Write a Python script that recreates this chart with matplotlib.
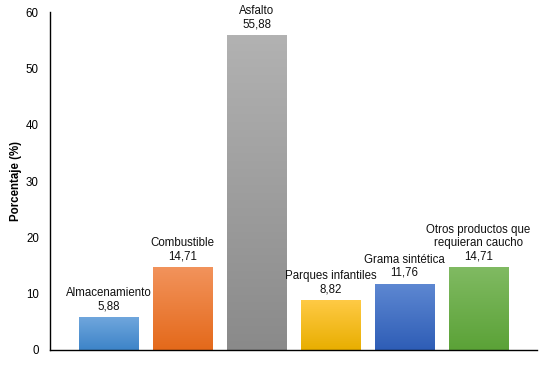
import matplotlib.pyplot as plt
import numpy as np
from matplotlib.colors import LinearSegmentedColormap

plt.rcParams['font.family'] = ['Liberation Sans', 'DejaVu Sans']

categorias = ['Almacenamiento', 'Combustible', 'Asfalto', 'Parques infantiles',
              'Grama sintética', 'Otros productos que\nrequieran caucho']
valores = [5.88, 14.71, 55.88, 8.82, 11.76, 14.71]
# (top colour, bottom colour) gradient per bar
colores = [('#71a7dd', '#3d84c8'), ('#f2935c', '#e4691a'), ('#b2b2b2', '#8a8a8a'),
           ('#ffca45', '#e8ae00'), ('#5e88d2', '#2e5db6'), ('#80ba62', '#5ba237')]

fig = plt.figure(figsize=(5.51, 3.68), dpi=100, facecolor='white')
ax = fig.add_axes([0.0907, 0.049, 0.884, 0.918])

x = np.arange(len(categorias))
bars = ax.bar(x, valores, width=0.8, color='none', edgecolor='none', zorder=2)

grad = np.linspace(0, 1, 256).reshape(-1, 1)
for b, (top, bottom) in zip(bars, colores):
    cmap = LinearSegmentedColormap.from_list('g', [bottom, top])
    x0, y0 = b.get_x(), b.get_y()
    im = ax.imshow(grad, cmap=cmap, origin='lower', aspect='auto',
                   extent=[x0, x0 + b.get_width(), y0, y0 + b.get_height()], zorder=2)
    im.set_clip_path(b)

for xi, v, cat in zip(x, valores, categorias):
    ax.annotate(f"{cat}\n{v:.2f}".replace('.', ','), (xi, v), xytext=(0, 3.5),
                textcoords='offset points', ha='center', va='bottom',
                fontsize=8.3, linespacing=1.12, color='#111111')

ax.set_xlim(-0.79, 5.79)
ax.set_ylim(0, 60)
ax.set_yticks(range(0, 61, 10))
ax.set_xticks([])
ax.tick_params(axis='y', length=0, labelsize=8.3, pad=8)
ax.set_ylabel('Porcentaje (%)', fontsize=8.3, fontweight='bold', labelpad=3)
for s in ['top', 'right']:
    ax.spines[s].set_visible(False)
for s in ['left', 'bottom']:
    ax.spines[s].set_linewidth(1.0)
    ax.spines[s].set_color('#000000')

fig.savefig('out.png', dpi=100, facecolor='white')
